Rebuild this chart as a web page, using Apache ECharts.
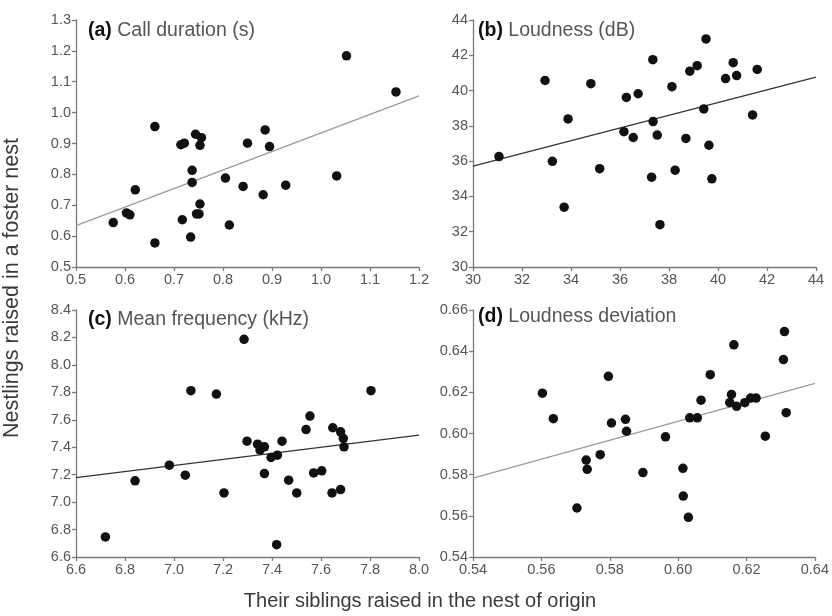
<!DOCTYPE html>
<html><head><meta charset="utf-8">
<script src="https://cdn.jsdelivr.net/npm/echarts@6/dist/echarts.min.js"></script>
<style>html,body{margin:0;padding:0;background:#fff}#c{width:832px;height:616px}</style>
</head><body><div id="c"></div>
<script>
// Panel (a) Call duration (s)
const ptsA = [[0.661,0.955],[1.052,1.184],[1.153,1.067],[0.714,0.896],[0.721,0.901],[0.744,0.930],[0.756,0.919],[0.753,0.894],[0.850,0.901],[0.886,0.944],[0.895,0.890],[0.737,0.813],[0.737,0.774],[0.805,0.788],[0.841,0.761],[0.882,0.734],[0.928,0.765],[1.032,0.795],[0.621,0.750],[0.603,0.675],[0.610,0.669],[0.576,0.644],[0.661,0.578],[0.717,0.653],[0.734,0.597],[0.753,0.704],[0.746,0.672],[0.751,0.672],[0.813,0.636]];
const lineA = [[0.5,0.634],[1.2,1.054]];
// Panel (b) Loudness (dB)
const ptsB = [[31.06,36.26],[32.94,40.57],[33.24,35.99],[33.88,38.39],[33.72,33.39],[34.81,40.39],[35.17,35.57],[36.26,39.61],[36.74,39.82],[36.16,37.67],[36.54,37.34],[37.34,41.75],[37.35,38.24],[37.52,37.48],[37.29,35.09],[37.63,32.40],[38.12,40.22],[38.25,35.49],[38.69,37.29],[38.85,41.10],[39.15,41.41],[39.51,42.93],[39.42,38.96],[39.63,36.90],[39.75,35.00],[40.31,40.68],[40.62,41.58],[40.76,40.85],[41.60,41.20],[41.41,38.62]];
const lineB = [[30,35.72],[44,40.76]];
// Panel (c) Mean frequency (kHz)
const ptsC = [[6.720,6.746],[6.841,7.155],[6.981,7.269],[7.046,7.196],[7.069,7.812],[7.173,7.787],[7.204,7.067],[7.286,8.186],[7.298,7.444],[7.341,7.422],[7.351,7.379],[7.369,7.403],[7.369,7.208],[7.396,7.325],[7.422,7.342],[7.441,7.444],[7.419,6.690],[7.468,7.160],[7.501,7.067],[7.539,7.529],[7.555,7.627],[7.570,7.213],[7.603,7.228],[7.648,7.542],[7.680,7.512],[7.691,7.464],[7.694,7.403],[7.645,7.067],[7.680,7.091],[7.804,7.812]];
const lineC = [[6.6,7.179],[8.0,7.488]];
// Panel (d) Loudness deviation
const ptsD = [[0.5603,0.6196],[0.5635,0.6072],[0.5704,0.5638],[0.5731,0.5871],[0.5734,0.5826],[0.5772,0.5897],[0.5796,0.6278],[0.5805,0.6051],[0.5846,0.6069],[0.5849,0.6011],[0.5897,0.5810],[0.5963,0.5984],[0.6014,0.5831],[0.6015,0.5696],[0.6030,0.5593],[0.6034,0.6076],[0.6056,0.6076],[0.6067,0.6162],[0.6094,0.6286],[0.6151,0.6150],[0.6156,0.6190],[0.6163,0.6431],[0.6171,0.6132],[0.6195,0.6150],[0.6212,0.6172],[0.6228,0.6172],[0.6255,0.5987],[0.6308,0.6359],[0.6311,0.6495],[0.6316,0.6101]];
const lineD = [[0.54,0.5783],[0.64,0.6243]];

const titles = [['(a)','Call duration (s)'],['(b)','Loudness (dB)'],['(c)','Mean frequency (kHz)'],['(d)','Loudness deviation']];
const xRanges = [[0.5,1.2,0.1,1],[30,44,2,0],[6.6,8.0,0.2,1],[0.54,0.64,0.02,2]];
const yRanges = [[0.5,1.3,0.1,1],[30,44,2,0],[6.6,8.4,0.2,1],[0.54,0.66,0.02,2]];
const yTitle = 'Nestlings raised in a foster nest';
const xTitle = 'Their siblings raised in the nest of origin';
const ptsAll = [ptsA,ptsB,ptsC,ptsD];
const linesAll = [lineA,lineB,lineC,lineD];
const lineColors = ['#9a9a9a','#333333','#333333','#9a9a9a'];

const FONT = 'Liberation Sans, Arial, sans-serif';
const grids = [
  {left:76, top:20, width:343, height:247},
  {left:473, top:20, width:343, height:247},
  {left:76, top:310, width:343, height:247},
  {left:473, top:310, width:343, height:247}
];
const axisCommon = (r) => ({
  type:'value', min:r[0], max:r[1], interval:r[2],
  axisLine:{show:true, onZero:false, lineStyle:{color:'#7a7a7a', width:1.3}},
  axisTick:{show:true, inside:false, length:4, lineStyle:{color:'#7a7a7a', width:1.3}},
  splitLine:{show:false},
  axisLabel:{color:'#555', fontSize:14.5, fontFamily:FONT, formatter:(v)=>v.toFixed(r[3]), margin:5}
});
const xAxis = xRanges.map((r,i)=>Object.assign(axisCommon(r),{gridIndex:i}));
const yAxis = yRanges.map((r,i)=>Object.assign(axisCommon(r),{gridIndex:i}));
const series = [];
ptsAll.forEach((p,i)=>{
  series.push({type:'scatter', xAxisIndex:i, yAxisIndex:i, data:p, symbolSize:9.5, itemStyle:{color:'#111', opacity:1}, silent:true, z:3});
  series.push({type:'line', xAxisIndex:i, yAxisIndex:i, data:linesAll[i], symbol:'none', lineStyle:{color:lineColors[i], width:1.3}, silent:true, z:2});
});
const titlePos = [[88,21],[478,21],[88,310],[478,307]];
const title = titles.map((t,i)=>({
  text:'{b|'+t[0]+'}{n| '+t[1]+'}', left:titlePos[i][0], top:titlePos[i][1], padding:0,
  textStyle:{rich:{b:{fontWeight:'bold', color:'#111', fontSize:19.5, fontFamily:FONT}, n:{fontWeight:'normal', color:'#555', fontSize:19.5, fontFamily:FONT}}}
}));
const chart = echarts.init(document.getElementById('c'));
chart.setOption({
  animation:false,
  backgroundColor:'#fff',
  title: title,
  grid: grids, xAxis: xAxis, yAxis: yAxis, series: series,
  graphic:[
    {type:'text', rotation:Math.PI/2, x:1, y:288, style:{text:yTitle, fill:'#3a3a3a', font:'21.5px '+FONT, textAlign:'center', textVerticalAlign:'top'}},
    {type:'text', x:420, y:591, style:{text:xTitle, fill:'#3a3a3a', font:'20px '+FONT, textAlign:'center', textVerticalAlign:'top'}}
  ]
});
</script></body></html>
